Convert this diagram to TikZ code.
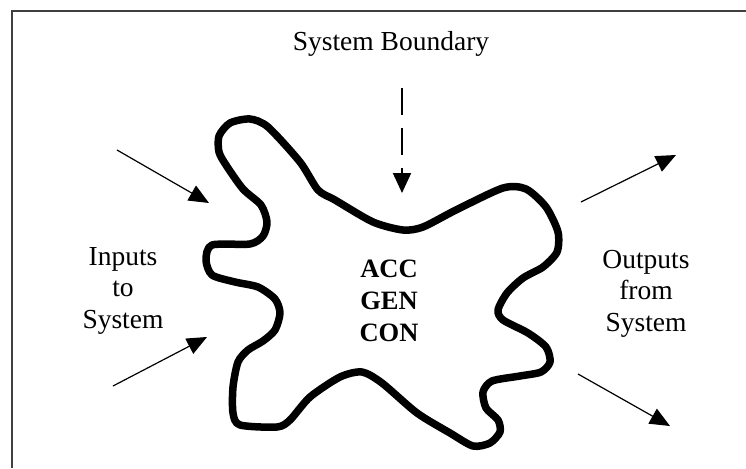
\documentclass[tikz,border=0pt]{standalone}
\usepackage{fontspec}
\setmainfont{Liberation Serif}
\usetikzlibrary{arrows.meta}
\begin{document}
\begin{tikzpicture}[x=1pt,y=-1pt,
  lbl/.style={align=center,font=\fontsize{27.5}{31.5}\selectfont,inner sep=0pt},
  blbl/.style={align=center,font=\fontsize{26.5}{32}\selectfont\bfseries,inner sep=0pt},
  flow/.style={line width=1.2pt,-{Triangle[length=20pt,width=17pt]}},
  frameline/.style={line width=1.4pt,draw=black!75}]
\useasboundingbox (0,0) rectangle (746,468);
\coordinate (fl) at (12,468);
\coordinate (fc) at (12,11);
\coordinate (fr) at (746,11);
\draw[frameline] (fl) -- (fc) -- (fr);
% system boundary blob
\draw[line width=7.5pt,line join=round,smooth cycle,tension=0.45] plot coordinates {
 (280,313) (275,330) (263,341) (248,350) (238,362) (233,387) (233,413) (240,425) (277,427) (290,420) (310,397) (340,377) (362,372) (382,383) (417,413) (450,433) (473,446) (490,443) (500,432) (498,420) (486,408) (483,392) (492,381) (520,376) (541,372) (550,362) (546,347) (528,333) (503,320) (498,310) (507,293) (523,278) (543,267) (557,252) (558,232) (546,207) (526,189) (503,188) (456,210) (423,227) (403,230) (373,222) (335,200) (318,190) (300,162) (268,127) (250,119) (230,123) (219,136) (219,152) (226,165) (243,189) (261,205) (267,222) (263,236) (250,244) (212,245) (206,260) (212,275) (235,282) (258,287) (275,299)
};
% texts
\node[lbl,anchor=base] (sb) at (391,51) {System Boundary};
\node[lbl,anchor=base] (in) at (123,328) {Inputs\\to\\System};
\node[lbl,anchor=base] (out) at (646,331) {Outputs\\from\\System};
\node[blbl,anchor=base] (acc) at (389,341) {ACC\\GEN\\CON};
% arrows
\coordinate (a1s) at (117,150); \coordinate (a1e) at (209,203);
\coordinate (a2s) at (113,386); \coordinate (a2e) at (207,337);
\coordinate (a3s) at (581,202); \coordinate (a3e) at (676,155);
\coordinate (a4s) at (578,374); \coordinate (a4e) at (670,426);
\coordinate (dbs) at (402,88); \coordinate (dbe) at (402,193);
\draw[flow] (a1s) -- (a1e);
\draw[flow] (a2s) -- (a2e);
\draw[flow] (a3s) -- (a3e);
\draw[flow] (a4s) -- (a4e);
\draw[line width=2pt,dash pattern=on 27pt off 13pt,-{Triangle[length=20pt,width=18pt]}] (dbs) -- (dbe);
\end{tikzpicture}
\end{document}
